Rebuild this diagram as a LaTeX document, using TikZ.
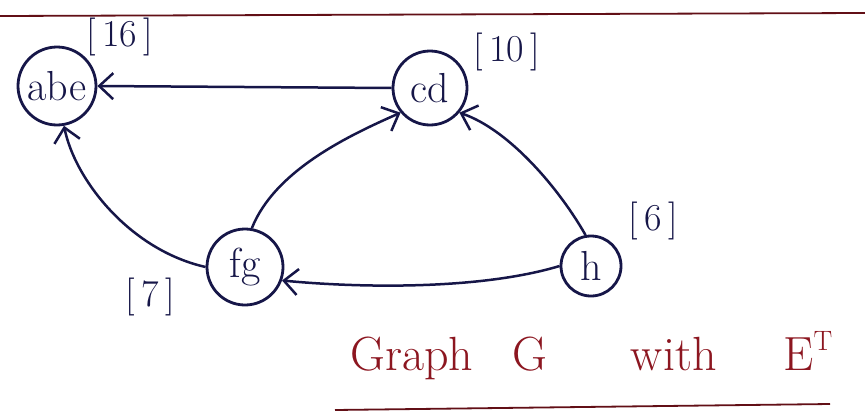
\documentclass[tikz,border=0pt]{standalone}
\usepackage{fontspec}
\usetikzlibrary{arrows.meta}
\definecolor{ink}{RGB}{22,22,72}
\definecolor{redink}{RGB}{140,22,32}
\begin{document}
\begin{tikzpicture}[x=1pt,y=-1pt,
  vert/.style={draw=ink,line width=2.8pt,circle,inner sep=0pt,text=ink,font=\fontsize{42}{42}\selectfont},
  lbl/.style={text=ink,font=\fontsize{38}{38}\selectfont},
  edge/.style={draw=ink,line width=2.5pt,-{Straight Barb[length=14pt,width=26pt,line width=2.5pt]}},
  rule/.style={draw=redink!70!black,line width=1.8pt}]
\useasboundingbox (0,0) rectangle (865,415);
\fill[white] (0,0) rectangle (865,415);
\coordinate (tl) at (0,16);
\coordinate (tr) at (865,13);
\draw[rule] (tl) -- (tr);
\coordinate (bl) at (335,410);
\coordinate (br) at (830,404);
\draw[rule] (bl) -- (br);
\node[vert,minimum size=78pt] (abe) at (57,86) {abe};
\node[vert,minimum size=74pt] (cd) at (430,88) {cd};
\node[vert,minimum size=76pt] (fg) at (245,267) {fg};
\node[vert,minimum size=60pt] (h) at (591,266) {h};
\node[lbl] (l16) at (120,37) {[\,16\,]};
\node[lbl] (l10) at (507,52) {[\,10\,]};
\node[lbl] (l6) at (653,221) {[\,6\,]};
\node[lbl] (l7) at (150,297) {[\,7\,]};
\node[text=redink,font=\fontsize{48}{48}\selectfont,anchor=base west,inner sep=0pt] (title) at (350,370) {Graph\hspace{39pt}G\hspace{84pt}with\hspace{67pt}E\raisebox{20pt}{\fontsize{28}{28}\selectfont T}};
\draw[edge] (cd.west) -- (abe.east);
\draw[edge] (fg.west) .. controls (130,250) and (75,180) .. (abe.-80);
\draw[edge] (fg.80) .. controls (275,170) and (350,135) .. (cd.-140);
\draw[edge] (h.100) .. controls (560,190) and (510,130) .. (cd.-40);
\draw[edge] (h.west) .. controls (480,290) and (360,288) .. (fg.-20);
\end{tikzpicture}
\end{document}
